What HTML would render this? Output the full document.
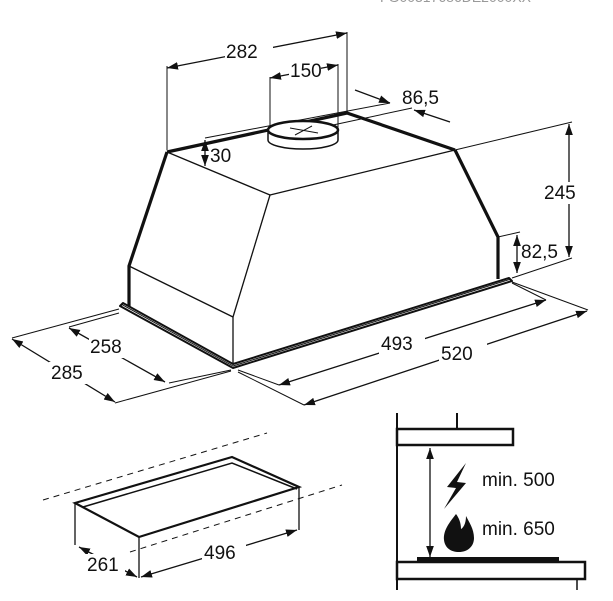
<!DOCTYPE html>
<html><head><meta charset="utf-8"><style>
html,body{margin:0;padding:0;background:#fff;width:613px;height:601px;overflow:hidden}
svg{display:block}
text{font-family:"Liberation Sans",sans-serif;font-size:19px;fill:#111}
</style></head><body>
<svg width="613" height="601" viewBox="0 0 613 601" xmlns="http://www.w3.org/2000/svg">
<defs>
<marker id="a" viewBox="0 0 10 10" refX="10" refY="5" markerWidth="11" markerHeight="11" orient="auto-start-reverse" markerUnits="userSpaceOnUse"><path d="M0,1.5 L10,5 L0,8.5 z" fill="#111"/></marker>
</defs>
<text x="380" y="2" style="font-size:14px;fill:#999">FG00317686DE2000XX</text>
<g stroke="#111" fill="none" stroke-width="1.3">
<line x1="167" y1="152" x2="270" y2="195"/>
<line x1="270" y1="195" x2="455" y2="150"/>
<line x1="270" y1="195" x2="233" y2="317"/>
<line x1="129" y1="266" x2="233" y2="317"/>
<line x1="233" y1="317" x2="233" y2="368"/>
</g>
<g stroke="#111" fill="none" stroke-width="1">
<line x1="167" y1="150" x2="167" y2="66"/>
<line x1="347" y1="112" x2="347" y2="32"/>
<line x1="270" y1="130" x2="270" y2="77"/>
<line x1="338" y1="130" x2="338" y2="64"/>
<line x1="205" y1="138" x2="390" y2="103"/>
<line x1="333" y1="125" x2="412" y2="108"/>
<line x1="455" y1="150" x2="572" y2="122"/>
<line x1="498" y1="237" x2="520" y2="232"/>
<line x1="512" y1="278" x2="572" y2="258"/>
<line x1="119" y1="309" x2="12" y2="338"/>
<line x1="119" y1="313" x2="69" y2="327"/>
<line x1="231" y1="370" x2="169" y2="383"/>
<line x1="231" y1="371" x2="115" y2="403"/>
<line x1="512" y1="283" x2="546" y2="300"/>
<line x1="512" y1="282" x2="588" y2="310"/>
<line x1="238" y1="370" x2="279" y2="385"/>
<line x1="238" y1="372" x2="304" y2="405"/>
<g marker-start="url(#a)" marker-end="url(#a)" stroke-width="1.3">
<line x1="167" y1="68" x2="347" y2="33"/>
<line x1="270" y1="78" x2="338" y2="65"/>
<line x1="205" y1="140" x2="205" y2="166"/>
<line x1="569" y1="124" x2="569" y2="257"/>
<line x1="517" y1="235" x2="517" y2="273"/>
<line x1="69" y1="328" x2="165" y2="382"/>
<line x1="12" y1="339" x2="115" y2="402"/>
<line x1="279" y1="385" x2="546" y2="300"/>
<line x1="304" y1="405" x2="587" y2="311"/>
<line x1="79" y1="547" x2="137" y2="577"/>
<line x1="141" y1="577" x2="297" y2="530"/>
<line x1="430" y1="448" x2="430" y2="557"/>
</g>
<line x1="355" y1="90" x2="390" y2="103" marker-end="url(#a)" stroke-width="1.3"/>
<line x1="450" y1="122" x2="414" y2="110" marker-end="url(#a)" stroke-width="1.3"/>
</g>
<g fill="#fff">
<rect x="225" y="40" width="48" height="22"/>
<rect x="289" y="60" width="32" height="20"/>
<rect x="544" y="182" width="42" height="22"/>
<rect x="89" y="336" width="46" height="22"/>
<rect x="49" y="362" width="44" height="22"/>
<rect x="379" y="333" width="46" height="22"/>
<rect x="439" y="343" width="48" height="22"/>
<rect x="85" y="554" width="40" height="22"/>
<rect x="202" y="542" width="44" height="22"/>
</g>
<g stroke="#111" fill="none" stroke-width="3.2" stroke-linejoin="round">
<polyline points="167,152 347,113 455,150"/>
<polyline points="167,152 129,266 129,307"/>
<polyline points="455,150 498,237 498,279"/>
<polygon points="120,306 233,368 512,281 509,278 233,364 123,303" stroke-width="2" fill="#fff"/>
<line x1="121" y1="304" x2="233" y2="366" stroke-width="1"/>
<line x1="233" y1="366" x2="511" y2="279" stroke-width="1"/>
</g>
<g stroke="#111" fill="#fff" stroke-width="1.5">
<path d="M268,130 L268,140 A35,9 0 0 0 338,140 L338,130"/>
<ellipse cx="303" cy="130" rx="35" ry="9" stroke-width="2.5"/>
<line x1="290" y1="128" x2="318" y2="133" stroke-width="1"/>
<line x1="295" y1="135" x2="312" y2="126" stroke-width="1"/>
</g>
<text x="226" y="58">282</text>
<text x="290" y="77">150</text>
<text x="402" y="104">86,5</text>
<text x="210" y="162">30</text>
<text x="544" y="199">245</text>
<text x="521" y="258">82,5</text>
<text x="90" y="353">258</text>
<text x="51" y="379">285</text>
<text x="381" y="350">493</text>
<text x="441" y="360">520</text>
<text x="87" y="571">261</text>
<text x="204" y="559">496</text>
<text x="482" y="486">min. 500</text>
<text x="482" y="535">min. 650</text>
<g stroke="#111" fill="none">
<line x1="43" y1="500" x2="267" y2="433" stroke-dasharray="6,5"/>
<line x1="130" y1="552" x2="342" y2="485" stroke-dasharray="6,5"/>
<polygon points="75,503 232,457 299,487 139,537" stroke-width="2.2" fill="#fff"/>
<polyline points="83,507 232,463 297,489" stroke-width="1.5"/>
<line x1="75" y1="503" x2="75" y2="545" stroke-width="1.3"/>
<line x1="139" y1="537" x2="139" y2="578" stroke-width="1.3"/>
<line x1="299" y1="487" x2="299" y2="530" stroke-width="1.3"/>
</g>
<g stroke="#111" fill="none">
<line x1="397" y1="413" x2="397" y2="590" stroke-width="2"/>
<line x1="457" y1="413" x2="457" y2="429" stroke-width="2"/>
<rect x="397" y="429" width="116" height="16" stroke-width="2.5"/>
<rect x="397" y="562" width="188" height="17" stroke-width="2.5"/>
<rect x="417" y="557" width="142" height="5" fill="#111" stroke="none"/>
<line x1="577" y1="579" x2="577" y2="590" stroke-width="1.5"/>
</g>
<path d="M466,463 L447,487 L456,488 L444,509 L466,483 L457,482 Z" fill="#111"/>
<path d="M456,514 C450,522 443,530 444,540 C445,548 451,552 459,552 C467,552 474,547 474,538 C474,529 469,522 466,516 C466,524 463,528 461,529 C461,523 459,518 456,514 Z" fill="#111"/>
</svg>
</body></html>
